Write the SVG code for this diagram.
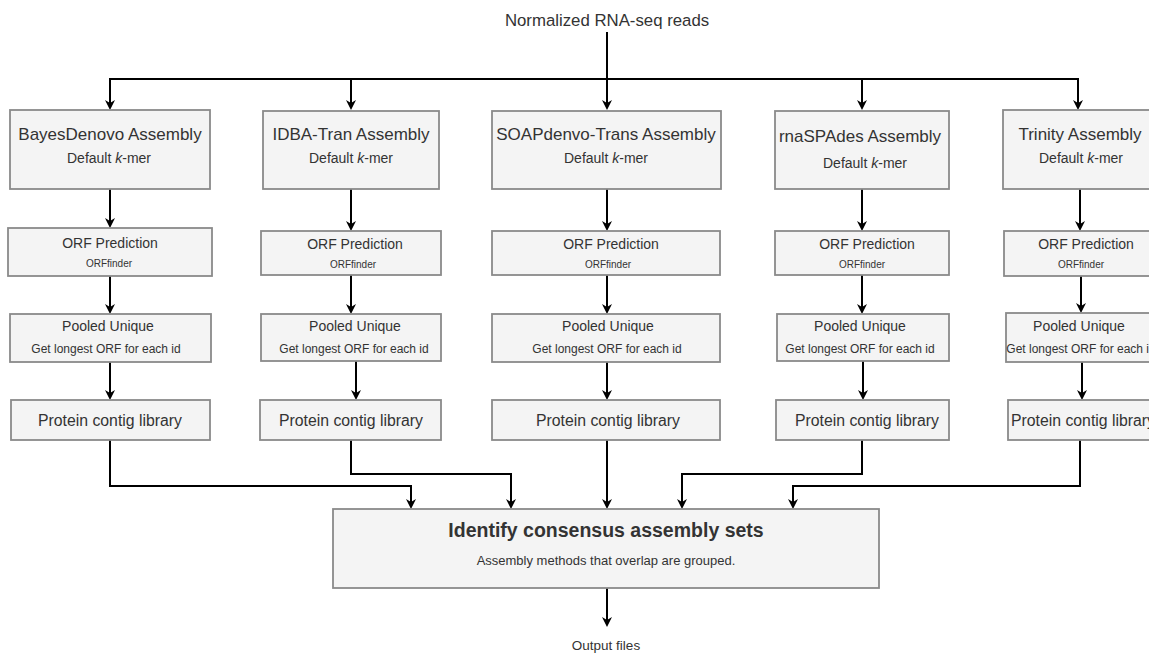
<svg xmlns="http://www.w3.org/2000/svg" width="1149" height="653" viewBox="0 0 1149 653">
  <style>
    .box { fill: #f4f4f4; stroke: #8a8a8a; stroke-width: 1.8; }
    .t { font-family: "Liberation Sans", Arial, sans-serif; fill: #333333; text-anchor: middle; }
    .h17 { font-size: 17px; }
    .s14 { font-size: 14px; }
    .s12 { font-size: 12px; }
    .s10 { font-size: 10px; }
    .s16 { font-size: 15.8px; }
    .conn { fill: none; stroke: #000000; stroke-width: 2; }
  </style>
  <defs>
    <marker id="arrow" viewBox="0 0 10 10" refX="6" refY="5" markerWidth="10" markerHeight="10" markerUnits="userSpaceOnUse" orient="auto">
      <path d="M0,0 L10,5 L0,10 L3,5 Z" fill="#000000"/>
    </marker>
  </defs>
  <rect width="1149" height="653" fill="#ffffff"/>

  <!-- input / output labels -->
  <text id="input" class="t" x="607" y="26" font-size="16.8">Normalized RNA-seq reads</text>
  <text id="output" class="t" x="606" y="650" font-size="13.5">Output files</text>

  <!-- connectors -->
  <g id="connectors" class="conn" marker-end="url(#arrow)">
    <!-- fan-out from the reads -->
    <path d="M607,32 V106"/>
    <path d="M607,79 H110 V106"/>
    <path d="M351,79 V106"/>
    <path d="M607,79 H1078 V106"/>
    <path d="M862,79 V106"/>
    <!-- BayesDenovo chain -->
    <path d="M110,189 V224"/>
    <path d="M110,276 V310"/>
    <path d="M110,362 V396"/>
    <!-- IDBA-Tran chain -->
    <path d="M351,189 V227"/>
    <path d="M351,275 V310"/>
    <path d="M356,361 V396"/>
    <!-- SOAPdenovo-Trans chain -->
    <path d="M607,189 V227"/>
    <path d="M607,275 V310"/>
    <path d="M607,362 V396"/>
    <!-- rnaSPAdes chain -->
    <path d="M862,189 V227"/>
    <path d="M862,275 V310"/>
    <path d="M863,361 V396"/>
    <!-- Trinity chain -->
    <path d="M1080,189 V227"/>
    <path d="M1081,276 V309"/>
    <path d="M1082,362 V396"/>
    <!-- merge into consensus -->
    <path d="M110,440 V486 H411 V505"/>
    <path d="M351,440 V474 H511 V505"/>
    <path d="M607,440 V505"/>
    <path d="M862,440 V474 H682 V505"/>
    <path d="M1080,440 V486 H793 V505"/>
    <path d="M607,588 V623"/>
  </g>

  <!-- BayesDenovo column -->
  <g id="bayes-assembly">
    <rect class="box" x="10" y="110" width="200" height="79"/>
    <text class="t h17" x="110" y="140">BayesDenovo Assembly</text>
    <text class="t s14" x="109" y="163">Default <tspan font-style="italic">k</tspan>-mer</text>
  </g>
  <g id="bayes-orf">
    <rect class="box" x="8" y="228" width="204" height="48"/>
    <text class="t s14" x="110" y="248">ORF Prediction</text>
    <text class="t s10" x="109" y="267">ORFfinder</text>
  </g>
  <g id="bayes-pooled">
    <rect class="box" x="10" y="314" width="201" height="48"/>
    <text class="t s14" x="108" y="331">Pooled Unique</text>
    <text class="t s12" x="106" y="353">Get longest ORF for each id</text>
  </g>
  <g id="bayes-library">
    <rect class="box" x="11" y="400" width="199" height="40"/>
    <text class="t s16" x="110" y="426">Protein contig library</text>
  </g>

  <!-- IDBA-Tran column -->
  <g id="idba-assembly">
    <rect class="box" x="263" y="111" width="176" height="78"/>
    <text class="t h17" x="351" y="140">IDBA-Tran Assembly</text>
    <text class="t s14" x="351" y="163">Default <tspan font-style="italic">k</tspan>-mer</text>
  </g>
  <g id="idba-orf">
    <rect class="box" x="261" y="231" width="180" height="44"/>
    <text class="t s14" x="355" y="249">ORF Prediction</text>
    <text class="t s10" x="353" y="268">ORFfinder</text>
  </g>
  <g id="idba-pooled">
    <rect class="box" x="261" y="314" width="180" height="47"/>
    <text class="t s14" x="355" y="331">Pooled Unique</text>
    <text class="t s12" x="354" y="353">Get longest ORF for each id</text>
  </g>
  <g id="idba-library">
    <rect class="box" x="260" y="400" width="181" height="40"/>
    <text class="t s16" x="351" y="426">Protein contig library</text>
  </g>

  <!-- SOAPdenovo-Trans column -->
  <g id="soap-assembly">
    <rect class="box" x="492" y="111" width="229" height="78"/>
    <text class="t h17" x="606" y="140">SOAPdenvo-Trans Assembly</text>
    <text class="t s14" x="606" y="163">Default <tspan font-style="italic">k</tspan>-mer</text>
  </g>
  <g id="soap-orf">
    <rect class="box" x="492" y="231" width="228" height="44"/>
    <text class="t s14" x="611" y="249">ORF Prediction</text>
    <text class="t s10" x="608" y="268">ORFfinder</text>
  </g>
  <g id="soap-pooled">
    <rect class="box" x="492" y="314" width="228" height="48"/>
    <text class="t s14" x="608" y="331">Pooled Unique</text>
    <text class="t s12" x="607" y="353">Get longest ORF for each id</text>
  </g>
  <g id="soap-library">
    <rect class="box" x="492" y="400" width="228" height="40"/>
    <text class="t s16" x="608" y="426">Protein contig library</text>
  </g>

  <!-- rnaSPAdes column -->
  <g id="rnaspades-assembly">
    <rect class="box" x="775" y="111" width="174" height="78"/>
    <text class="t h17" x="860" y="142">rnaSPAdes Assembly</text>
    <text class="t s14" x="865" y="168">Default <tspan font-style="italic">k</tspan>-mer</text>
  </g>
  <g id="rnaspades-orf">
    <rect class="box" x="775" y="231" width="174" height="44"/>
    <text class="t s14" x="867" y="249">ORF Prediction</text>
    <text class="t s10" x="862" y="268">ORFfinder</text>
  </g>
  <g id="rnaspades-pooled">
    <rect class="box" x="777" y="314" width="172" height="47"/>
    <text class="t s14" x="860" y="331">Pooled Unique</text>
    <text class="t s12" x="860" y="353">Get longest ORF for each id</text>
  </g>
  <g id="rnaspades-library">
    <rect class="box" x="776" y="400" width="173" height="40"/>
    <text class="t s16" x="867" y="426">Protein contig library</text>
  </g>

  <!-- Trinity column -->
  <g id="trinity-assembly">
    <rect class="box" x="1003" y="110" width="154" height="79"/>
    <text class="t h17" x="1080" y="140">Trinity Assembly</text>
    <text class="t s14" x="1081" y="163">Default <tspan font-style="italic">k</tspan>-mer</text>
  </g>
  <g id="trinity-orf">
    <rect class="box" x="1004" y="231" width="153" height="45"/>
    <text class="t s14" x="1086" y="249">ORF Prediction</text>
    <text class="t s10" x="1081" y="268">ORFfinder</text>
  </g>
  <g id="trinity-pooled">
    <rect class="box" x="1006" y="313" width="151" height="49"/>
    <text class="t s14" x="1079" y="331">Pooled Unique</text>
    <text class="t s12" x="1081" y="353">Get longest ORF for each id</text>
  </g>
  <g id="trinity-library">
    <rect class="box" x="1008" y="400" width="149" height="40"/>
    <text class="t s16" x="1083" y="426">Protein contig library</text>
  </g>

  <!-- consensus step -->
  <g id="consensus">
    <rect class="box" x="333" y="509" width="546" height="79"/>
    <text class="t" x="606" y="537" font-size="19.5px" font-weight="bold" fill="#111111">Identify consensus assembly sets</text>
    <text class="t" x="606" y="565" font-size="13px">Assembly methods that overlap are grouped.</text>
  </g>
</svg>
